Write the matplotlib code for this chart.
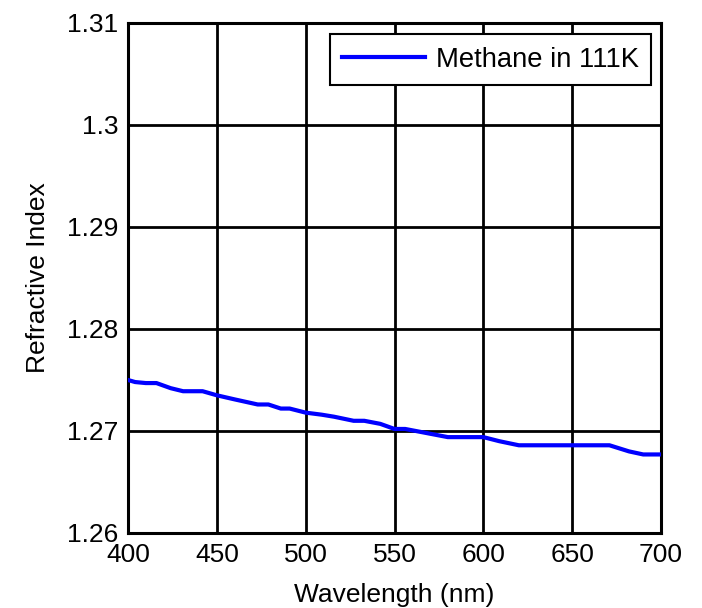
import matplotlib
matplotlib.use("Agg")
import matplotlib.pyplot as plt

plt.rcParams['font.family'] = ['Liberation Sans', 'DejaVu Sans']

wavelength = [400, 404, 410, 416, 424, 431, 442, 450, 460, 473, 479, 486, 491, 500,
              509, 516, 527, 533, 542, 550, 556, 568, 580, 600, 609, 620, 671, 682, 690, 700]
refr_index = [1.2750, 1.2748, 1.2747, 1.2747, 1.2742, 1.2739, 1.2739, 1.2735, 1.2731,
              1.2726, 1.2726, 1.2722, 1.2722, 1.2718, 1.2716, 1.2714, 1.2710, 1.2710,
              1.2707, 1.2702, 1.2702, 1.2698, 1.2694, 1.2694, 1.2690, 1.2686, 1.2686,
              1.2680, 1.2677, 1.2677]
series_label = "Methane in 111K"
xticks = [400, 450, 500, 550, 600, 650, 700]
yticks = [1.26, 1.27, 1.28, 1.29, 1.30, 1.31]
ytick_labels = ['1.26', '1.27', '1.28', '1.29', '1.3', '1.31']

fig = plt.figure(figsize=(7.02, 6.08), dpi=100)
ax = fig.add_axes([128/702, 1-533/608, (661-128)/702, (533-23)/608])
ax.plot(wavelength, refr_index, color='#0000ff', lw=3, label=series_label, zorder=3)
ax.set_xlim(400, 700)
ax.set_ylim(1.26, 1.31)
ax.set_xticks(xticks)
ax.set_xticklabels([str(t) for t in xticks])
ax.set_yticks(yticks)
ax.set_yticklabels(ytick_labels)
ax.grid(True, color='black', lw=2.0, ls='-')
ax.set_axisbelow(True)
for s in ax.spines.values():
    s.set_linewidth(2.2)
    s.set_color('black')
ax.tick_params(length=0, labelsize=19)
ax.tick_params(axis='y', pad=7)
ax.tick_params(axis='x', pad=7)
ax.set_xlabel("Wavelength (nm)", fontsize=19, labelpad=12)
ax.set_ylabel("Refractive Index", fontsize=19, labelpad=12)
leg = ax.legend(loc='upper right', fontsize=19.7, fancybox=False, framealpha=1,
                edgecolor='black', handlelength=3.05, handletextpad=0.37, borderpad=0.45,
                borderaxespad=0, bbox_to_anchor=(0.981, 0.978))
leg.get_frame().set_linewidth(1.5)
fig.savefig("out.png", dpi=100)
